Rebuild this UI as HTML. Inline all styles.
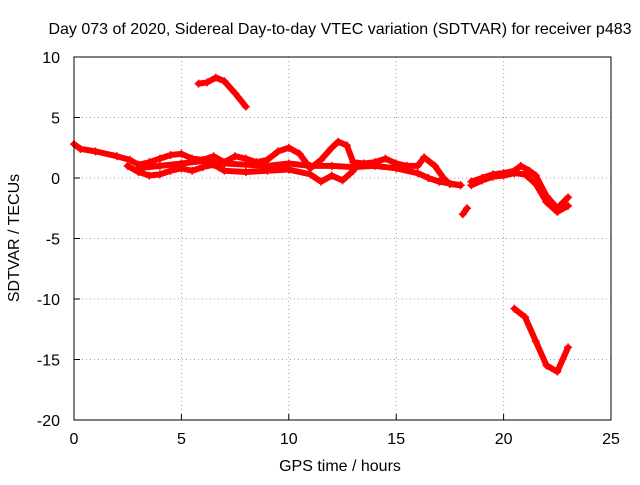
<!DOCTYPE html>
<html><head><meta charset="utf-8"><style>body{margin:0;background:#fff}text{font-family:"Liberation Sans",sans-serif;font-size:16px;fill:#000}</style></head>
<body>
<svg id="c" width="640" height="480" xmlns="http://www.w3.org/2000/svg"></svg>
<script>
const xTicks=[0,5,10,15,20,25];
const yTicks=[10,5,0,-5,-10,-15,-20];
const trackUpper=[[0,2.8],[0.3,2.4],[1,2.2],[2,1.8],[2.6,1.5],[3,1.1],[3.5,1.3],[4,1.6],[4.5,1.9],[5,2.0],[5.5,1.6],[6,1.5],[6.5,1.8],[7,1.3],[7.5,1.8],[8,1.6],[8.5,1.3],[9,1.5],[9.5,2.2],[10,2.5],[10.5,2.0],[11,0.8],[11.5,1.5],[12,2.5],[12.3,3.0],[12.7,2.7],[13,1.3],[13.5,1.2],[14,1.3],[14.5,1.6],[15,1.2],[15.5,1.0],[16,1.0],[16.3,1.7],[16.8,1.0],[17.2,0],[17.5,-0.5],[18,-0.6]];
const trackLower=[[2.5,1.0],[3,0.5],[3.5,0.2],[4,0.3],[4.5,0.6],[5,0.8],[5.5,0.6],[6,0.9],[6.5,1.1],[7,0.6],[8,0.5],[9,0.6],[10,0.7],[11,0.3],[11.5,-0.3],[12,0.2],[12.5,-0.2],[13,0.6]];
const trackMid=[[3,0.8],[4,1.0],[5,1.2],[6,1.4],[7,1.2],[8,1.1],[9,1.0],[10,1.2],[11,1.0],[12,1.0],[13,0.9],[14,1.0],[15,0.8],[16,0.4],[16.5,0],[17,-0.3],[18,-0.6]];
const trackLateA=[[18.5,-0.3],[19,0],[19.5,0.3],[20,0.4],[20.5,0.6],[20.8,1.0],[21.2,0.6],[21.5,0.2],[22,-1.5],[22.5,-2.5],[23,-1.6]];
const trackLateB=[[18.5,-0.6],[19,-0.2],[19.5,0.1],[20,0.2],[20.5,0.4],[21,0.3],[21.5,-0.5],[22,-2.0],[22.5,-2.8],[23,-2.3]];
const trackSmall=[[18.1,-3.0],[18.3,-2.5]];
const trackTop=[[5.8,7.8],[6.2,7.9],[6.6,8.3],[7,8.0],[7.5,7.0],[8,5.9]];
const trackBottom=[[20.5,-10.8],[21,-11.5],[21.5,-13.5],[22,-15.5],[22.5,-16.0],[23,-14.0]];
const tracks=[trackUpper,trackLower,trackMid,trackLateA,trackLateB,trackSmall,trackTop,trackBottom];
const L=74,R=611,T=57,B=420;
const xs=v=>L+(v-0)/25*(R-L);
const ys=v=>B-(v+20)/30*(B-T);
const svg=document.getElementById('c');
const NS='http://www.w3.org/2000/svg';
function mk(tag,attrs,txt){const e=document.createElementNS(NS,tag);for(const k in attrs)e.setAttribute(k,attrs[k]);if(txt!==undefined)e.textContent=txt;svg.appendChild(e);return e;}
xTicks.forEach(t=>{const x=xs(t);
 if(t>0&&t<25){const g=mk('line',{x1:x,y1:T,x2:x,y2:B,stroke:'#a0a0a0','stroke-dasharray':'1,3'});}
 const tk=mk('line',{x1:x,y1:B,x2:x,y2:B-6,stroke:'#000'});
 const lb=mk('text',{x:x,y:B+24,'text-anchor':'middle'},String(t));});
yTicks.forEach(t=>{const y=ys(t);
 if(t>-20&&t<10){const g=mk('line',{x1:L,y1:y,x2:R,y2:y,stroke:'#a0a0a0','stroke-dasharray':'1,3'});}
 const tk=mk('line',{x1:L,y1:y,x2:L+6,y2:y,stroke:'#000'});
 const lb=mk('text',{x:L-14,y:y+6,'text-anchor':'end'},String(t));});
tracks.forEach(tr=>{
 const pl=mk('polyline',{points:tr.map(p=>xs(p[0])+','+ys(p[1])).join(' '),fill:'none',stroke:'#ff0000','stroke-width':6,'stroke-linejoin':'round','stroke-linecap':'round'});
 
 tr.forEach(p=>{const x=xs(p[0]),y=ys(p[1]);
  const m=mk('path',{d:`M${x-4},${y}H${x+4}M${x},${y-4}V${y+4}`,stroke:'#ff0000','stroke-width':1.5});
  });
});
const fr=mk('rect',{x:L,y:T,width:R-L,height:B-T,fill:'none',stroke:'#000'});
const ti=mk('text',{x:340,y:34,'text-anchor':'middle'},'Day 073 of 2020, Sidereal Day-to-day VTEC variation (SDTVAR) for receiver p483');
const xt=mk('text',{x:340,y:471,'text-anchor':'middle'},'GPS time / hours');
const yt=mk('text',{x:19,y:238,'text-anchor':'middle',transform:'rotate(-90 19 238)'},'SDTVAR / TECUs');
</script>
</body></html>
